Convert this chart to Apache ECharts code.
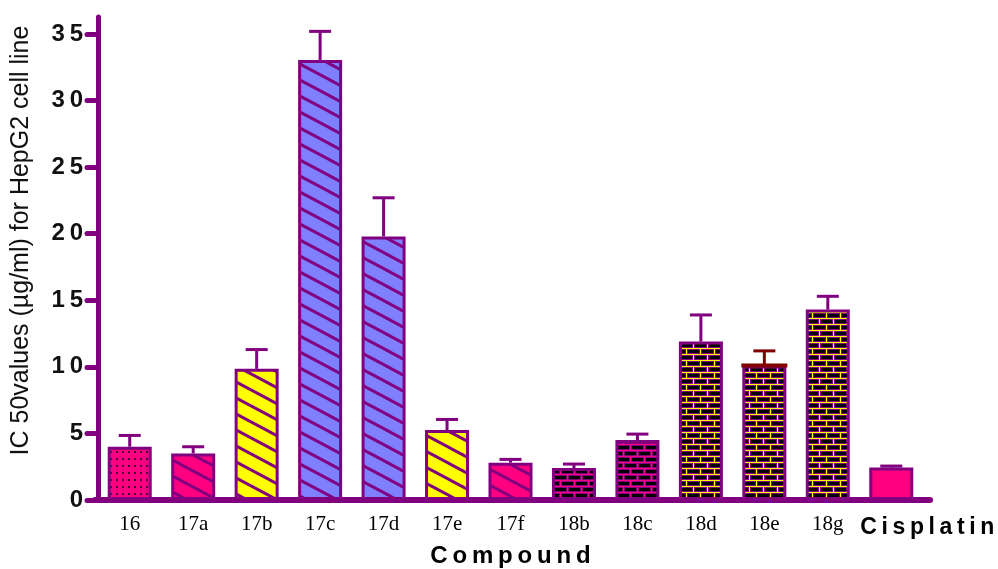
<!DOCTYPE html>
<html>
<head>
<meta charset="utf-8">
<script src="https://cdn.jsdelivr.net/npm/echarts@6/dist/echarts.min.js"></script>
<style>
html,body{margin:0;padding:0;background:#fff;}
#chart{width:998px;height:569px;}
</style>
</head>
<body>
<div id="chart"></div>
<script>
// ---- data ----
const categories = ['16','17a','17b','17c','17d','17e','17f','18b','18c','18d','18e','18g','Cisplatin'];
const ic50 = [4.0, 3.5, 9.85, 33.05, 19.8, 5.25, 2.8, 2.4, 4.5, 11.9, 10.1, 14.3, 2.45];
const sd = [0.85, 0.5, 1.45, 2.15, 2.9, 0.8, 0.25, 0.3, 0.45, 2.0, 1.1, 1.0, 0.1];
const yTicks = [0, 5, 10, 15, 20, 25, 30, 35];
const yAxisTitle = 'IC 50values (µg/ml) for HepG2 cell line';
const xAxisTitle = 'Compound';

// ---- styling ----
const PURPLE = '#800080';
const PINK = '#FF0080';
const YELLOW = '#FFFF00';
const BLUE = '#8080FF';

function tile(w, h, draw) {
  const c = document.createElement('canvas');
  c.width = w; c.height = h;
  draw(c.getContext('2d'));
  return { image: c, repeat: 'repeat' };
}
function stripes(bg) {
  return tile(30, 16, ctx => {
    ctx.fillStyle = bg; ctx.fillRect(0, 0, 30, 16);
    ctx.strokeStyle = PURPLE; ctx.lineWidth = 3;
    for (const off of [-16, 0, 16]) {
      ctx.beginPath(); ctx.moveTo(-2, off - 1); ctx.lineTo(32, off + 17); ctx.stroke();
    }
  });
}
function dots() {
  return tile(6, 7, ctx => {
    ctx.fillStyle = PINK; ctx.fillRect(0, 0, 6, 7);
    ctx.fillStyle = '#500030'; ctx.fillRect(2, 3, 2, 2);
  });
}
function bricks(mortar) {
  return tile(28, 12, ctx => {
    ctx.fillStyle = PURPLE; ctx.fillRect(0, 0, 28, 12);
    const row = (y, shift) => {
      ctx.fillStyle = mortar; ctx.fillRect(0, y, 28, 1);
      for (let x = shift - 14; x < 28; x += 14) {
        ctx.fillStyle = mortar; ctx.fillRect(x, y, 1, 6);
        ctx.fillStyle = '#000'; ctx.fillRect(x + 2, y + 2, 11, 3);
      }
    };
    row(0, 0); row(6, 7);
  });
}
const fills = [dots(), stripes(PINK), stripes(YELLOW), stripes(BLUE), stripes(BLUE), stripes(YELLOW),
  stripes(PINK), bricks(PINK), bricks(PINK), bricks(YELLOW), bricks(YELLOW), bricks(YELLOW), PINK];
const errColors = categories.map((c, i) => i === 10 ? '#800000' : PURPLE);

const spaced = s => s.split('').join('\u2009');

const chart = echarts.init(document.getElementById('chart'), null, { renderer: 'canvas' });
chart.setOption({
  animation: false,
  backgroundColor: '#fff',
  grid: [
    { left: 98, right: 75, top: 17, bottom: 69, containLabel: false, outerBoundsMode: 'none' },
    { left: 95, right: 68, top: 17, bottom: 69, containLabel: false, outerBoundsMode: 'none' }
  ],
  xAxis: [
    {
      type: 'category', gridIndex: 0, data: categories,
      axisLine: { show: false }, axisTick: { show: false },
      axisLabel: {
        interval: 0, margin: 14,
        formatter: v => v === 'Cisplatin' ? '{c|' + spaced(v) + '}' : '{s|' + v + '}',
        rich: {
          s: { fontFamily: 'Liberation Serif', fontSize: 21, color: '#000' },
          c: { fontFamily: 'Liberation Sans', fontWeight: 'bold', fontSize: 23, color: '#000', padding: [2, 0, 0, 72] }
        }
      },
      name: spaced(xAxisTitle), nameLocation: 'middle', nameGap: 44,
      nameTextStyle: { fontFamily: 'Liberation Sans', fontWeight: 'bold', fontSize: 24, color: '#000' }
    },
    {
      type: 'value', gridIndex: 1, min: 0, max: 1,
      axisLine: { show: true, lineStyle: { color: PURPLE, width: 6 } },
      axisTick: { show: false }, axisLabel: { show: false }, splitLine: { show: false }
    }
  ],
  yAxis: [
    {
      type: 'value', gridIndex: 0, min: 0, max: 36.28,
      axisLine: { show: true, lineStyle: { color: PURPLE, width: 5 } },
      axisTick: { show: true, length: 11, lineStyle: { color: PURPLE, width: 5, cap: 'round' }, customValues: yTicks },
      axisLabel: {
        customValues: yTicks, margin: 15,
        fontFamily: 'Liberation Sans', fontWeight: 'bold', fontSize: 24, color: '#111',
        formatter: v => spaced(String(v))
      },
      splitLine: { show: false },
      name: yAxisTitle, nameLocation: 'middle', nameGap: 64, nameRotate: 90,
      nameTextStyle: { fontFamily: 'Liberation Sans', fontSize: 25, color: '#111', padding: [0, 0, 0, 36] }
    },
    { type: 'value', gridIndex: 1, show: false, min: 0, max: 1 }
  ],
  series: [
    {
      type: 'custom', xAxisIndex: 0, yAxisIndex: 0, z: 1,
      data: categories.map((c, i) => [i, ic50[i], ic50[i] + sd[i]]),
      renderItem: (params, api) => {
        const i = params.dataIndex;
        const p0 = api.coord([api.value(0), api.value(1)]);
        const p1 = api.coord([api.value(0), api.value(2)]);
        const col = errColors[i];
        return {
          type: 'group', children: [
            { type: 'line', shape: { x1: p0[0], y1: p0[1], x2: p1[0], y2: p1[1] }, style: { stroke: col, lineWidth: 3 } },
            { type: 'line', shape: { x1: p1[0] - 11, y1: p1[1], x2: p1[0] + 11, y2: p1[1] }, style: { stroke: col, lineWidth: 3 } }
          ]
        };
      }
    },
    {
      type: 'bar', xAxisIndex: 0, yAxisIndex: 0, z: 2, barWidth: 44,
      data: ic50.map((v, i) => ({ value: v, itemStyle: { color: fills[i], borderColor: PURPLE, borderWidth: 3 } }))
    },
    {
      type: 'custom', xAxisIndex: 0, yAxisIndex: 0, z: 3,
      data: categories.map((c, i) => [i, ic50[i]]).filter((d, i) => errColors[i] !== PURPLE),
      renderItem: (params, api) => {
        const p = api.coord([api.value(0), api.value(1)]);
        return { type: 'line', shape: { x1: p[0] - 23, y1: p[1], x2: p[0] + 23, y2: p[1] }, style: { stroke: '#800000', lineWidth: 4 } };
      }
    }
  ]
});
</script>
</body>
</html>
